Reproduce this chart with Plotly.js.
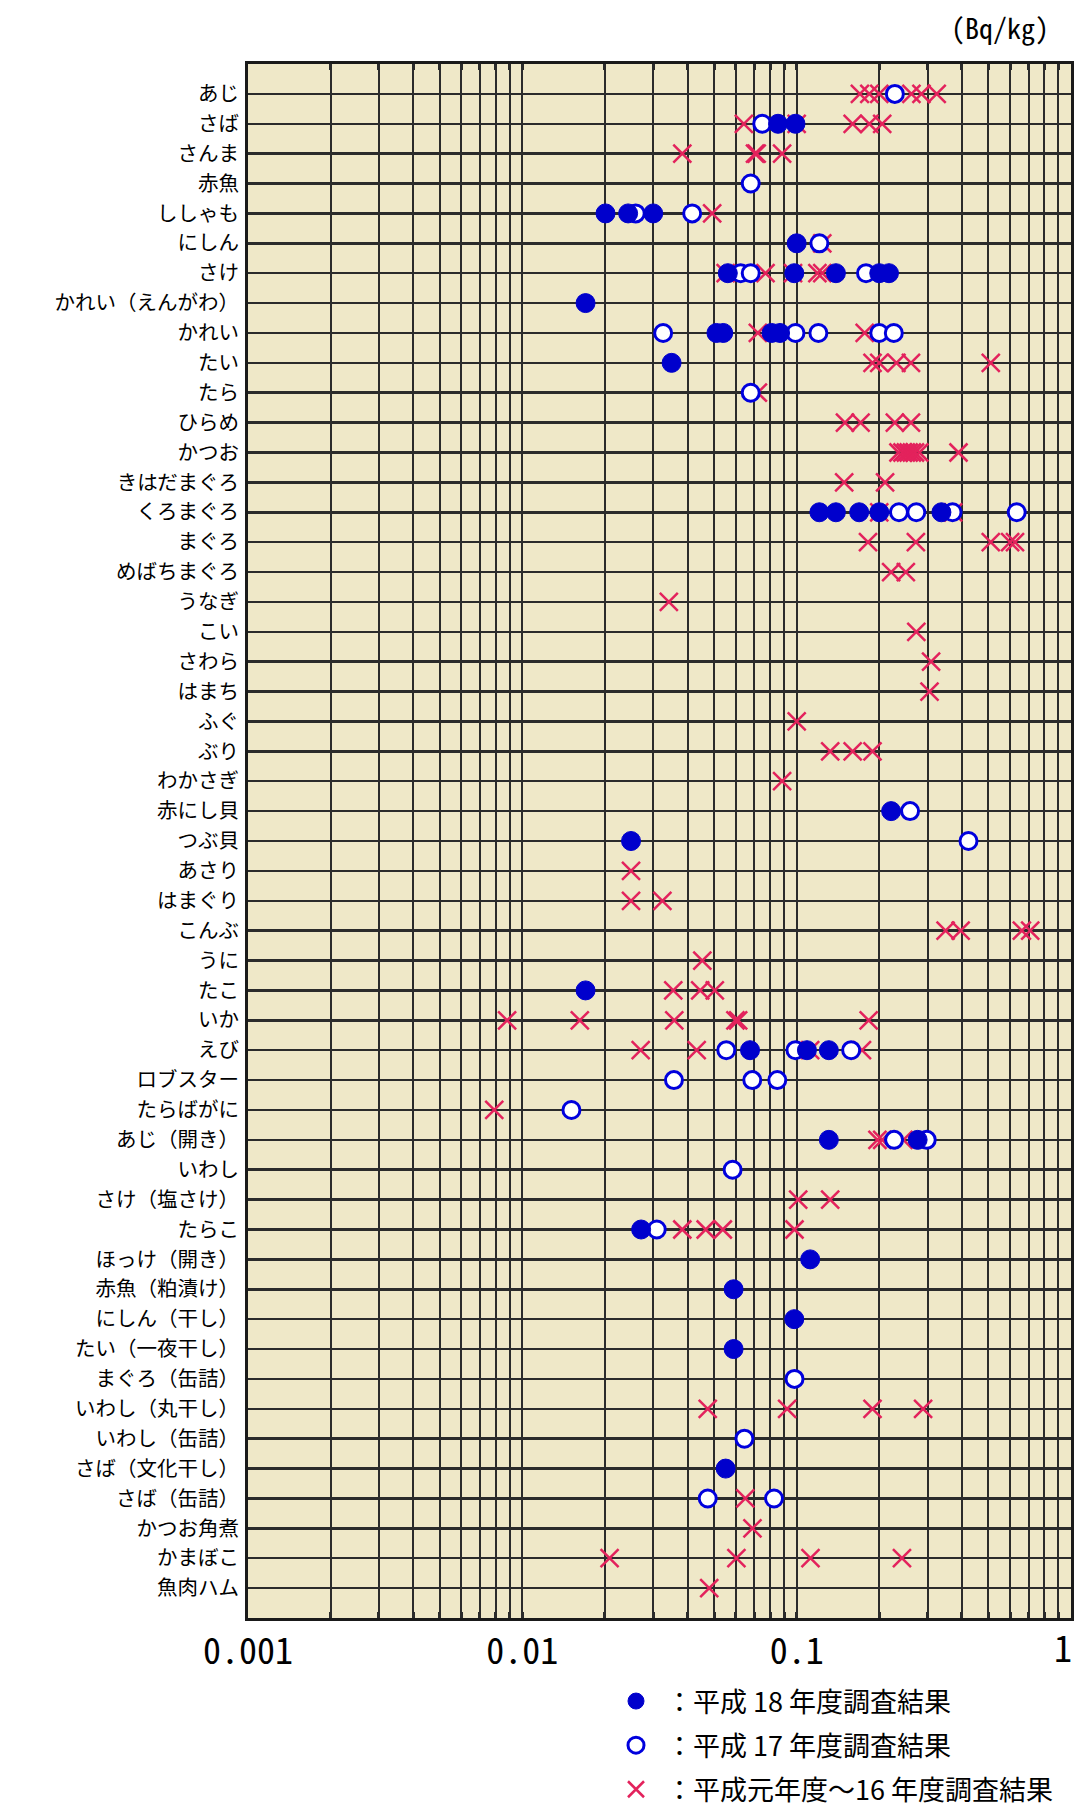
<!DOCTYPE html>
<html>
<head>
<meta charset="utf-8">
<script src="https://cdn.plot.ly/plotly-3.0.1.min.js"></script>
<style>
  html, body { margin: 0; padding: 0; background: #ffffff; }
  #chart { width: 1078px; height: 1809px; }
</style>
</head>
<body>
<div id="chart"></div>
<script>
// ---- categories (top to bottom) ----
const categories = [
  "あじ","さば","さんま","赤魚","ししゃも","にしん","さけ","かれい（えんがわ）","かれい","たい",
  "たら","ひらめ","かつお","きはだまぐろ","くろまぐろ","まぐろ","めばちまぐろ","うなぎ","こい","さわら",
  "はまち","ふぐ","ぶり","わかさぎ","赤にし貝","つぶ貝","あさり","はまぐり","こんぶ","うに",
  "たこ","いか","えび","ロブスター","たらばがに","あじ（開き）","いわし","さけ（塩さけ）","たらこ","ほっけ（開き）",
  "赤魚（粕漬け）","にしん（干し）","たい（一夜干し）","まぐろ（缶詰）","いわし（丸干し）","いわし（缶詰）","さば（文化干し）","さば（缶詰）","かつお角煮","かまぼこ",
  "魚肉ハム"
];

// ---- x-axis tick labels ----
const tickValues = [0.001, 0.01, 0.1, 1];
const tickLabels = ["0.001", "0.01", "0.1", "1"];

// ---- series names ----
const nameH18 = "：平成 18 年度調査結果";
const nameH17 = "：平成 17 年度調査結果";
const namePast = "：平成元年度～16 年度調査結果";

// ---- 平成18年度調査結果 (filled circles), Bq/kg ----
const h18Cat = [
  "さば","さば",
  "ししゃも","ししゃも","ししゃも",
  "にしん",
  "さけ","さけ","さけ","さけ","さけ",
  "かれい（えんがわ）",
  "かれい","かれい","かれい","かれい",
  "たい",
  "くろまぐろ","くろまぐろ","くろまぐろ","くろまぐろ","くろまぐろ",
  "赤にし貝",
  "つぶ貝",
  "たこ",
  "えび","えび","えび",
  "あじ（開き）","あじ（開き）",
  "たらこ",
  "ほっけ（開き）",
  "赤魚（粕漬け）",
  "にしん（干し）",
  "たい（一夜干し）",
  "さば（文化干し）"
];
const h18Val = [
  0.0855, 0.099,
  0.0201, 0.0243, 0.030,
  0.100,
  0.0561, 0.098, 0.139, 0.200, 0.217,
  0.017,
  0.051, 0.054, 0.081, 0.087,
  0.035,
  0.121, 0.139, 0.169, 0.200, 0.337,
  0.221,
  0.0249,
  0.017,
  0.0676, 0.109, 0.131,
  0.131, 0.276,
  0.0271,
  0.112,
  0.0589,
  0.098,
  0.0589,
  0.0551
];

// ---- 平成17年度調査結果 (open circles), Bq/kg ----
const h17Cat = [
  "あじ",
  "さば",
  "赤魚",
  "ししゃも","ししゃも",
  "にしん",
  "さけ","さけ","さけ",
  "かれい","かれい","かれい","かれい","かれい",
  "たら",
  "くろまぐろ","くろまぐろ","くろまぐろ","くろまぐろ",
  "赤にし貝",
  "つぶ貝",
  "えび","えび","えび",
  "ロブスター","ロブスター","ロブスター",
  "たらばがに",
  "あじ（開き）","あじ（開き）",
  "いわし",
  "たらこ",
  "まぐろ（缶詰）",
  "いわし（缶詰）",
  "さば（缶詰）","さば（缶詰）"
];
const h17Val = [
  0.228,
  0.0749,
  0.068,
  0.0259, 0.0416,
  0.121,
  0.0625, 0.068, 0.179,
  0.0326, 0.099, 0.120, 0.200, 0.226,
  0.068,
  0.236, 0.273, 0.370, 0.634,
  0.259,
  0.423,
  0.0554, 0.099, 0.158,
  0.0357, 0.0689, 0.085,
  0.0151,
  0.2265, 0.298,
  0.0584,
  0.0309,
  0.0982,
  0.0645,
  0.0474, 0.0827
];

// ---- 平成元年度～16年度調査結果 (crosses), Bq/kg ----
const pastCat = [
  "あじ","あじ","あじ","あじ","あじ","あじ",
  "さば","さば","さば","さば","さば",
  "さんま","さんま","さんま","さんま",
  "ししゃも",
  "にしん",
  "さけ","さけ","さけ","さけ","さけ",
  "かれい","かれい",
  "たい","たい","たい","たい","たい",
  "たら",
  "ひらめ","ひらめ","ひらめ","ひらめ",
  "かつお","かつお","かつお","かつお","かつお","かつお","かつお","かつお",
  "きはだまぐろ","きはだまぐろ",
  "くろまぐろ","くろまぐろ",
  "まぐろ","まぐろ","まぐろ","まぐろ","まぐろ",
  "めばちまぐろ","めばちまぐろ",
  "うなぎ",
  "こい",
  "さわら",
  "はまち",
  "ふぐ",
  "ぶり","ぶり","ぶり",
  "わかさぎ",
  "あさり",
  "はまぐり","はまぐり",
  "こんぶ","こんぶ","こんぶ","こんぶ",
  "うに",
  "たこ","たこ","たこ",
  "いか","いか","いか","いか","いか","いか",
  "えび","えび","えび","えび",
  "たらばがに",
  "あじ（開き）","あじ（開き）","あじ（開き）",
  "さけ（塩さけ）","さけ（塩さけ）",
  "たらこ","たらこ","たらこ","たらこ",
  "いわし（丸干し）","いわし（丸干し）","いわし（丸干し）","いわし（丸干し）",
  "さば（缶詰）",
  "かつお角煮",
  "かまぼこ","かまぼこ","かまぼこ","かまぼこ",
  "魚肉ハム"
];
const pastVal = [
  0.170, 0.184, 0.200, 0.262, 0.285, 0.324,
  0.0642, 0.100, 0.160, 0.184, 0.205,
  0.0383, 0.0705, 0.0715, 0.0885,
  0.0492,
  0.124,
  0.0551, 0.077, 0.097, 0.119, 0.124,
  0.0722, 0.177,
  0.189, 0.200, 0.231, 0.261, 0.510,
  0.0722,
  0.150, 0.171, 0.228, 0.261,
  0.235, 0.243, 0.250, 0.256, 0.263, 0.270, 0.280, 0.389,
  0.149, 0.210,
  0.200, 0.372,
  0.182, 0.272, 0.510, 0.600, 0.625,
  0.221, 0.250,
  0.0342,
  0.273,
  0.309,
  0.305,
  0.100,
  0.1325, 0.160, 0.189,
  0.0885,
  0.0249,
  0.0249, 0.0324,
  0.349, 0.396, 0.662, 0.710,
  0.0453,
  0.0355, 0.0445, 0.0503,
  0.0088, 0.0162, 0.0358, 0.0598, 0.0612, 0.183,
  0.027, 0.0432, 0.112, 0.173,
  0.0079,
  0.197, 0.205, 0.245,
  0.1013, 0.1325,
  0.0383, 0.0466, 0.0538, 0.0982,
  0.0474, 0.0923, 0.189, 0.289,
  0.065,
  0.069,
  0.0208, 0.0603, 0.1123, 0.242,
  0.048
];

// ---- styles ----
const jpFont = "'Noto Sans CJK JP', 'Noto Sans', sans-serif";
const monoFont = "'Noto Sans Mono CJK JP', 'DejaVu Sans Mono', monospace";
const gridColor = "#2b2b2b";
const crossColor = "#E3225C";
const blue = "#0000CC";

const traces = [
  {
    type: "scatter", mode: "markers", name: namePast,
    x: pastVal, y: pastCat,
    legendgroup: "c", legendrank: 3,
    marker: { symbol: "x-thin", size: 18, color: crossColor, line: { color: crossColor, width: 2.5 } },
    hoverinfo: "x+y"
  },
  {
    type: "scatter", mode: "markers", name: nameH17,
    x: h17Val, y: h17Cat,
    legendgroup: "b", legendrank: 2,
    marker: { symbol: "circle", size: 17, color: "#ffffff", line: { color: "#0000DD", width: 3 } },
    hoverinfo: "x+y"
  },
  {
    type: "scatter", mode: "markers", name: nameH18,
    x: h18Val, y: h18Cat,
    legendgroup: "a", legendrank: 1,
    marker: { symbol: "circle", size: 19, color: blue, line: { color: blue, width: 1 } },
    hoverinfo: "x+y"
  }
];

const H = 1809, T = 64, plotBottom = 1618;
const domBottom = (H - plotBottom) / (H - T);
const tickLabelY = (H - 1646) / (H - T);

// the last tick label (at the right edge) is placed as an axis-referenced annotation so it stays inside the page
const lastIdx = tickValues.length - 1;

const layout = {
  width: 1078, height: 1809,
  margin: { l: 248, r: 7, t: T, b: 0, pad: 0, autoexpand: false },
  paper_bgcolor: "#ffffff",
  plot_bgcolor: "#EFE8C8",
  showlegend: true,
  legend: {
    x: (606 - 248) / 823, xanchor: "left",
    y: (H - 1677) / (H - T), yanchor: "top",
    font: { family: jpFont, size: 27, color: "#000" },
    bgcolor: "rgba(0,0,0,0)",
    traceorder: "grouped",
    tracegroupgap: 6,
    itemwidth: 50,
    itemsizing: "trace"
  },
  xaxis: {
    type: "log",
    range: [-3.00001, 0.00001],
    tickvals: tickValues.slice(0, lastIdx),
    ticktext: tickLabels.slice(0, lastIdx),
    tickfont: { family: monoFont, size: 36, color: "#000" },
    showgrid: true, gridcolor: gridColor, gridwidth: 2,
    minor: { dtick: "D1", showgrid: true, gridcolor: gridColor, gridwidth: 2,
             ticks: "inside", ticklen: 6, tickwidth: 3, tickcolor: gridColor },
    ticks: "inside", ticklen: 6, tickwidth: 3, tickcolor: gridColor,
    showline: true, linecolor: "#1a1a1a", linewidth: 3, mirror: "allticks",
    zeroline: false, fixedrange: true
  },
  yaxis: {
    type: "category",
    categoryorder: "array",
    categoryarray: categories,
    tickvals: categories,
    range: [51, -1],
    domain: [domBottom, 1],
    tickfont: { family: jpFont, size: 20.5, color: "#000" },
    ticks: "", ticklabelstandoff: 2,
    showgrid: true, gridcolor: gridColor, gridwidth: 2.5,
    showline: true, linecolor: "#1a1a1a", linewidth: 3, mirror: true,
    zeroline: false, fixedrange: true
  },
  annotations: [
    {
      text: "(Bq/kg)", xref: "paper", yref: "paper",
      x: (1051 - 248) / 823, xanchor: "right",
      y: (H - 27) / (H - T), yanchor: "middle",
      showarrow: false,
      font: { family: monoFont, size: 28, color: "#000" }
    },
    {
      text: tickLabels[lastIdx], xref: "x", yref: "paper",
      x: Math.log10(tickValues[lastIdx]), xanchor: "right", xshift: 3,
      y: tickLabelY, yanchor: "middle",
      showarrow: false,
      font: { family: monoFont, size: 36, color: "#000" }
    }
  ]
};

Plotly.newPlot("chart", traces, layout, { displayModeBar: false, staticPlot: true });
</script>
</body>
</html>
